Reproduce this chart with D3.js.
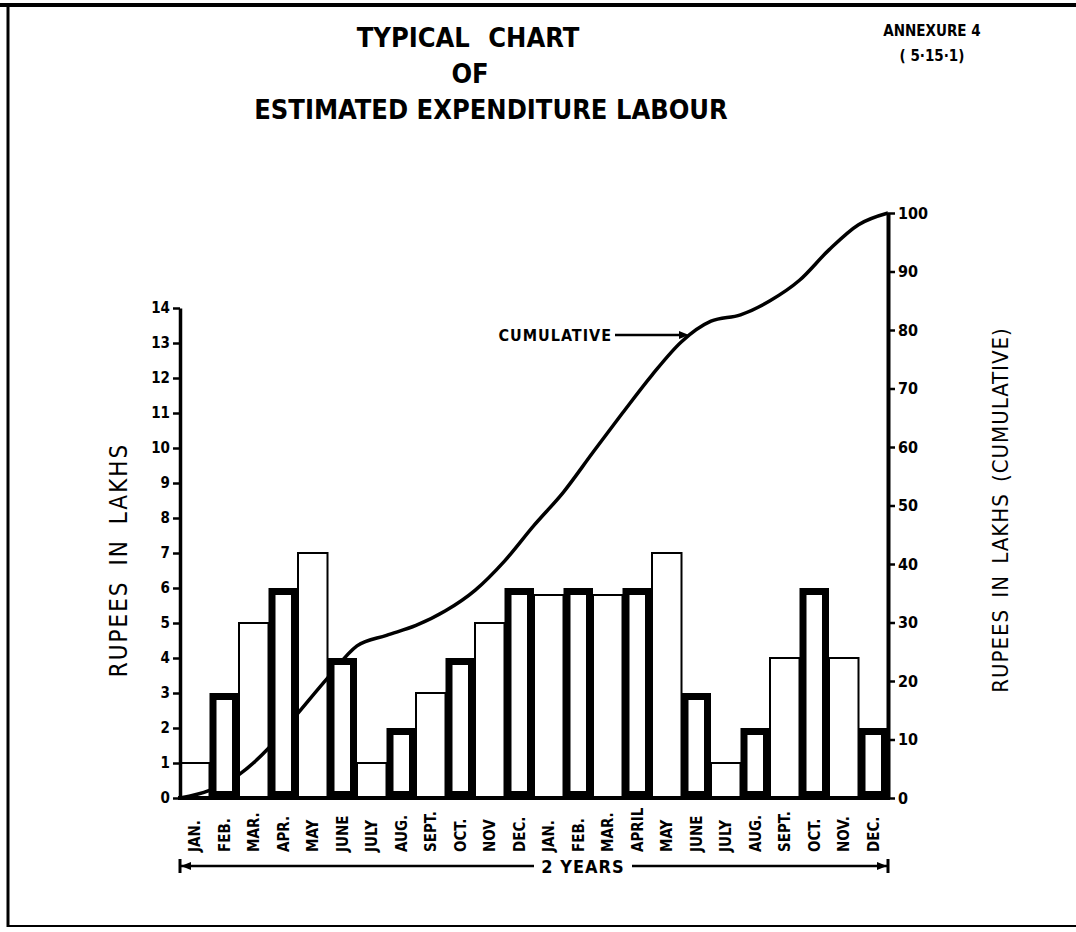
<!DOCTYPE html>
<html>
<head>
<meta charset="utf-8">
<script src="https://cdn.jsdelivr.net/npm/d3@7"></script>
<style>
  body { margin: 0; background: #fff; }
  text { font-family: 'DejaVu Sans Condensed', 'DejaVu Sans', sans-serif; fill: #000; }
</style>
</head>
<body>
<div id="viz"></div>
<script>
var width = 1076,
    height = 932;

// months (2 years)
var months = ['JAN.', 'FEB.', 'MAR.', 'APR.', 'MAY', 'JUNE', 'JULY', 'AUG.', 'SEPT.', 'OCT.', 'NOV', 'DEC.',
              'JAN.', 'FEB.', 'MAR.', 'APRIL', 'MAY', 'JUNE', 'JULY', 'AUG.', 'SEPT.', 'OCT.', 'NOV.', 'DEC.'];

// monthly expenditure, rupees in lakhs
var monthly = [1, 3, 5, 6, 7, 4, 1, 2, 3, 4, 5, 6,
               5.8, 6, 5.8, 6, 7, 3, 1, 2, 4, 6, 4, 2];

// cumulative curve read at each month boundary (start of jan .. end of dec)
var cumulative = [0, 1.3, 4, 8.5, 14.5, 20.5, 26, 27.8, 29.5, 32, 35.5, 40.5, 46.6,
                  52.3, 59.1, 65.8, 72.3, 78, 81.5, 82.6, 85, 88.5, 93.7, 98, 100];

var leftTicks = [0, 1, 2, 3, 4, 5, 6, 7, 8, 9, 10, 11, 12, 13, 14];
var rightTicks = [0, 10, 20, 30, 40, 50, 60, 70, 80, 90, 100];

var svg = d3.select('#viz')
  .append('svg')
  .attr('width', width)
  .attr('height', height)
  .style('background', '#fff');

// scales
var x = d3.scaleBand()
  .domain(d3.range(months.length))
  .range([180, 888])
  .padding(0);

var xEdge = d3.scaleLinear()
  .domain([0, months.length])
  .range([180, 888]);

var yL = d3.scaleLinear().domain([0, 14]).range([798, 308]);
var yR = d3.scaleLinear().domain([0, 100]).range([798, 213]);

// frame of the sheet
svg.append('line').attr('x1', 0).attr('y1', 5).attr('x2', width).attr('y2', 5)
  .attr('stroke', '#000').attr('stroke-width', 4);
svg.append('line').attr('x1', 8).attr('y1', 5).attr('x2', 8).attr('y2', 927)
  .attr('stroke', '#000').attr('stroke-width', 3);
svg.append('line').attr('x1', 8).attr('y1', 926).attr('x2', width).attr('y2', 926)
  .attr('stroke', '#000').attr('stroke-width', 2);

// titles
var titles = [['TYPICAL  CHART', 468, 47, 10], ['OF', 470, 83, 0], ['ESTIMATED EXPENDITURE LABOUR', 491, 119, 0]];
svg.selectAll('.title')
  .data(titles)
  .enter().append('text')
  .attr('class', 'title')
  .attr('x', function(d) { return d[1]; })
  .attr('y', function(d) { return d[2]; })
  .attr('text-anchor', 'middle')
  .style('font-size', '27px')
  .style('font-weight', 'bold')
  .style('word-spacing', function(d) { return d[3] + 'px'; })
  .text(function(d) { return d[0]; });

svg.append('text').attr('x', 932).attr('y', 36).attr('text-anchor', 'middle')
  .style('font-size', '15px').style('font-weight', 'bold').text('ANNEXURE 4');
svg.append('text').attr('x', 932).attr('y', 61).attr('text-anchor', 'middle')
  .style('font-size', '15px').style('font-weight', 'bold').text('( 5·15·1)');

// thin bars (even months)
var chart = svg.append('g').attr('class', 'chart');

chart.selectAll('.thin')
  .data(monthly.map(function(v, i) { return {v: v, i: i}; }).filter(function(d) { return d.i % 2 === 0; }))
  .enter().append('rect')
  .attr('class', 'thin')
  .attr('x', function(d) { return x(d.i); })
  .attr('y', function(d) { return yL(d.v); })
  .attr('width', x.bandwidth())
  .attr('height', function(d) { return yL(0) - yL(d.v); })
  .style('fill', '#fff')
  .attr('stroke', '#000')
  .attr('stroke-width', 2);

// cumulative curve
var line = d3.line()
  .x(function(d, i) { return xEdge(i); })
  .y(function(d) { return yR(d); })
  .curve(d3.curveMonotoneX);

chart.append('path')
  .datum(cumulative)
  .attr('d', line)
  .style('fill', 'none')
  .attr('stroke', '#000')
  .attr('stroke-width', 3.5);

// thick bars (odd months), drawn over the curve
chart.selectAll('.thick')
  .data(monthly.map(function(v, i) { return {v: v, i: i}; }).filter(function(d) { return d.i % 2 === 1; }))
  .enter().append('rect')
  .attr('class', 'thick')
  .attr('x', function(d) { return x(d.i) + 3.5; })
  .attr('y', function(d) { return yL(d.v) + 3.5; })
  .attr('width', x.bandwidth() - 7)
  .attr('height', function(d) { return yL(0) - yL(d.v) - 7; })
  .style('fill', '#fff')
  .attr('stroke', '#000')
  .attr('stroke-width', 7);

// baseline
chart.append('line')
  .attr('x1', 178).attr('y1', yL(0)).attr('x2', 890).attr('y2', yL(0))
  .attr('stroke', '#000').attr('stroke-width', 4);

// left axis
var leftAxis = svg.append('g')
  .attr('transform', 'translate(180,0)')
  .call(d3.axisLeft(yL).tickValues(leftTicks).tickSize(7).tickSizeOuter(0).tickPadding(3));
leftAxis.select('.domain').attr('stroke-width', 3.5);
leftAxis.selectAll('.tick line').attr('stroke-width', 2.5);
leftAxis.selectAll('.tick text')
  .style('font-size', '15px').style('font-weight', 'bold')
  .style('font-family', "'DejaVu Sans Condensed', sans-serif");

// right axis
var rightAxis = svg.append('g')
  .attr('transform', 'translate(888,0)')
  .call(d3.axisRight(yR).tickValues(rightTicks).tickSize(7).tickSizeOuter(0).tickPadding(3));
rightAxis.select('.domain').attr('stroke-width', 4);
rightAxis.selectAll('.tick line').attr('stroke-width', 2.5);
rightAxis.selectAll('.tick text')
  .style('font-size', '16px').style('font-weight', 'bold')
  .style('font-family', "'DejaVu Sans Condensed', sans-serif");

// axis titles
svg.append('text')
  .attr('transform', 'translate(127,560) rotate(-90)')
  .attr('text-anchor', 'middle')
  .style('font-size', '24px')
  .style('letter-spacing', '2px')
  .style('word-spacing', '6px')
  .text('RUPEES IN LAKHS');

svg.append('text')
  .attr('transform', 'translate(1008,510) rotate(-90)')
  .attr('text-anchor', 'middle')
  .style('font-size', '22px')
  .style('letter-spacing', '1px')
  .style('word-spacing', '4px')
  .text('RUPEES IN LAKHS (CUMULATIVE)');

// month labels
svg.selectAll('.month')
  .data(months)
  .enter().append('text')
  .attr('class', 'month')
  .attr('transform', function(d, i) {
    return 'translate(' + (x(i) + x.bandwidth() / 2) + ',852) rotate(-90)';
  })
  .attr('dy', '0.36em')
  .style('font-size', '15px')
  .style('font-weight', 'bold')
  .text(function(d) { return d; });

// 2 years span
var spanY = 866;
svg.append('line').attr('x1', 180).attr('y1', spanY).attr('x2', 534).attr('y2', spanY)
  .attr('stroke', '#000').attr('stroke-width', 2.5);
svg.append('line').attr('x1', 632).attr('y1', spanY).attr('x2', 888).attr('y2', spanY)
  .attr('stroke', '#000').attr('stroke-width', 2.5);
svg.append('line').attr('x1', 180).attr('y1', spanY - 7).attr('x2', 180).attr('y2', spanY + 7)
  .attr('stroke', '#000').attr('stroke-width', 3);
svg.append('line').attr('x1', 888).attr('y1', spanY - 7).attr('x2', 888).attr('y2', spanY + 7)
  .attr('stroke', '#000').attr('stroke-width', 3);
svg.append('path').attr('d', 'M181,' + spanY + 'l10,-4l0,8z').style('fill', '#000');
svg.append('path').attr('d', 'M887,' + spanY + 'l-10,-4l0,8z').style('fill', '#000');
svg.append('text').attr('x', 583).attr('y', spanY + 7).attr('text-anchor', 'middle')
  .style('font-size', '18px').style('font-weight', 'bold').style('letter-spacing', '1px').text('2 YEARS');

// cumulative label with arrow
svg.append('text').attr('x', 612).attr('y', 341).attr('text-anchor', 'end')
  .style('font-size', '16px').style('font-weight', 'bold').style('letter-spacing', '1px').text('CUMULATIVE');
svg.append('line').attr('x1', 615).attr('y1', 335).attr('x2', 680).attr('y2', 335)
  .attr('stroke', '#000').attr('stroke-width', 2.5);
svg.append('path').attr('d', 'M689,335l-10,-4l0,8z').style('fill', '#000');
</script>
</body>
</html>
